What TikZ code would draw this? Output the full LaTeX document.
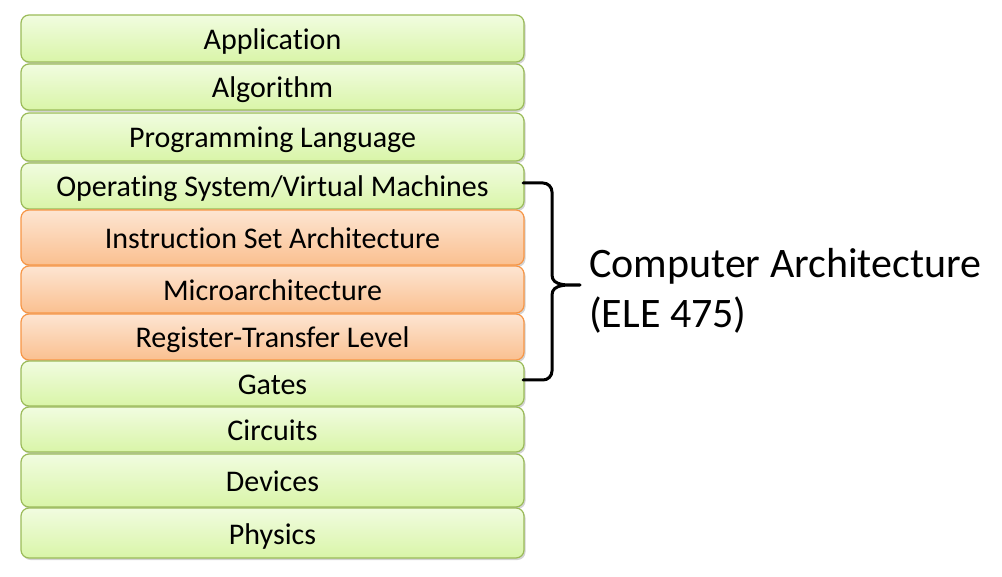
\documentclass[tikz,border=0pt]{standalone}
\usepackage{fontspec}
\setmainfont{Carlito}[Ligatures=NoCommon]
\usetikzlibrary{shadows}
\definecolor{gtop}{HTML}{F1FCE0}
\definecolor{gbot}{HTML}{D9F5A8}
\definecolor{gline}{HTML}{9BBB59}
\definecolor{otop}{HTML}{FDE5D2}
\definecolor{obot}{HTML}{FAC090}
\definecolor{oline}{HTML}{F79646}
\tikzset{
  layer/.style={rounded corners=8pt, minimum width=503pt, line width=1.2pt,
     font=\fontsize{30}{34}\selectfont, text=black, inner sep=0pt,
     text height=22pt, text depth=0pt,
     drop shadow={shadow xshift=1.5pt, shadow yshift=-2pt, opacity=0.35}},
  green/.style={layer, draw=gline, top color=gtop, bottom color=gbot},
  orange/.style={layer, draw=oline, top color=otop, bottom color=obot},
  brace/.style={draw=black, line width=3pt, line cap=round, line join=round},
}
\begin{document}
\begin{tikzpicture}[x=1pt,y=-1pt]
\useasboundingbox (0,0) rectangle (1002,577);
\node[green, minimum height=47pt] (app) at (272.5,38.5) {Application};
\node[green, minimum height=46pt] (alg) at (272.5,87) {Algorithm};
\node[green, minimum height=48pt] (prog) at (272.5,137) {Programming Language};
\node[green, minimum height=46pt] (os) at (272.5,186) {Operating System/Virtual Machines};
\node[orange, minimum height=55pt] (isa) at (272.5,237.5) {Instruction Set Architecture};
\node[orange, minimum height=47pt] (micro) at (272.5,289.5) {Microarchitecture};
\node[orange, minimum height=46pt] (rtl) at (272.5,337) {Register-Transfer Level};
\node[green, minimum height=45pt] (gates) at (272.5,383.5) {Gates};
\node[green, minimum height=45pt] (circ) at (272.5,429.5) {Circuits};
\node[green, minimum height=53pt] (dev) at (272.5,480.5) {Devices};
\node[green, minimum height=50pt] (phys) at (272.5,533) {Physics};
\coordinate (btop) at (523,183);
\coordinate (bbot) at (523,380);
\coordinate (tip) at (580,285);
\draw[brace] (btop) -- (543,183) to[out=0,in=90] (552,192) -- (552,275)
   to[out=-90,in=180] (tip) to[out=180,in=90] (552,295) -- (552,371)
   to[out=-90,in=0] (543,380) -- (bbot);
\node[anchor=west, align=left, inner sep=0pt, font=\fontsize{42}{50}\selectfont] (ca) at (589,291)
  {Computer Architecture\\(ELE 475)};
\end{tikzpicture}
\end{document}
